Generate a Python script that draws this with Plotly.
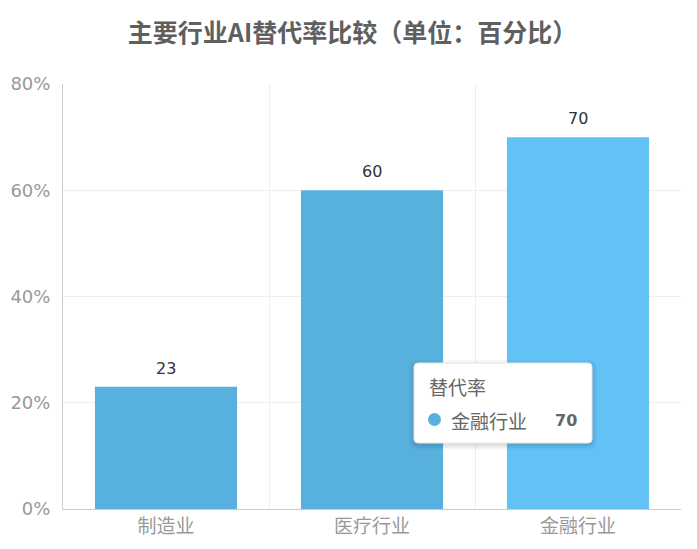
import plotly.graph_objects as go

categories = ["制造业", "医疗行业", "金融行业"]
rates = [23, 60, 70]
bar_colors = ["#58b0de", "#58b0de", "#63c2f5"]
y_ticks = [0, 20, 40, 60, 80]
y_tick_labels = ["0%", "20%", "40%", "60%", "80%"]

CJK = "Noto Sans CJK SC, sans-serif"
NUM = "DejaVu Sans, Noto Sans CJK SC, sans-serif"

# the page puts the figure 8px in from the top-left corner
OFF = 8
W, H = 697 - OFF, 549 - OFF
ML, MR, MT, MB = 63 - OFF, 16, 84 - OFF, 40
PW, PH = W - ML - MR, H - MT - MB


def px(x):
    return (x - OFF - ML) / PW


def py(y):
    return (H - MB - (y - OFF)) / PH


def rounded_box(x0, y0, x1, y1, r):
    """SVG path (paper coords) for a rounded rectangle given in screen pixels"""
    pts = [
        f"M{px(x0 + r)},{py(y0)}",
        f"L{px(x1 - r)},{py(y0)}",
        f"Q{px(x1)},{py(y0)} {px(x1)},{py(y0 + r)}",
        f"L{px(x1)},{py(y1 - r)}",
        f"Q{px(x1)},{py(y1)} {px(x1 - r)},{py(y1)}",
        f"L{px(x0 + r)},{py(y1)}",
        f"Q{px(x0)},{py(y1)} {px(x0)},{py(y1 - r)}",
        f"L{px(x0)},{py(y0 + r)}",
        f"Q{px(x0)},{py(y0)} {px(x0 + r)},{py(y0)}",
        "Z",
    ]
    return " ".join(pts)


fig = go.Figure(go.Bar(
    x=categories, y=rates,
    marker=dict(color=bar_colors, line=dict(width=0)),
    width=0.69,
    hoverinfo="skip",
))

# value labels above the bars
for cat, val in zip(categories, rates):
    fig.add_annotation(x=cat, y=val, text=str(val), showarrow=False,
                       yanchor="bottom", yshift=7,
                       font=dict(size=16, color="#333333", family=NUM))

fig.update_layout(
    width=W, height=H,
    margin=dict(l=ML, r=MR, t=MT, b=MB),
    paper_bgcolor="white", plot_bgcolor="white",
    showlegend=False,
    title=dict(text="<b>主要行业AI替代率比较（单位：百分比）</b>",
               x=0.5, xanchor="center", y=1 - (33 - OFF) / H, yanchor="middle",
               font=dict(size=25, color="#5f5f5f", family=CJK)),
    font=dict(family=CJK),
)
fig.update_xaxes(
    tickson="boundaries", showgrid=True, gridcolor="#eeeeee", gridwidth=1,
    showline=True, linecolor="#cccccc", linewidth=1,
    ticks="", automargin=False,
    tickfont=dict(size=19, color="#999999", family=CJK),
)
fig.update_yaxes(
    range=[0, 80], tickvals=y_ticks, ticktext=y_tick_labels,
    showgrid=True, gridcolor="#eeeeee", gridwidth=1,
    showline=True, linecolor="#cccccc", linewidth=1,
    zeroline=False, ticks="", ticklabelstandoff=8, automargin=False,
    tickfont=dict(size=18, color="#999999", family=NUM),
)

# static tooltip, as in the reference (soft shadow + rounded white box)
for grow, alpha in [(5, 0.03), (3, 0.04), (1, 0.06)]:
    fig.add_shape(type="path", xref="paper", yref="paper",
                  path=rounded_box(414 - grow, 363 - grow + 2, 592 + grow, 443 + grow + 2, 4 + grow),
                  fillcolor=f"rgba(0,0,0,{alpha})", line=dict(width=0), layer="above")
fig.add_shape(type="path", xref="paper", yref="paper",
              path=rounded_box(414, 363, 592, 443, 4),
              fillcolor="white", line=dict(color="#e6e6e6", width=1), layer="above")
fig.add_shape(type="circle", xref="paper", yref="paper",
              x0=px(428), x1=px(441), y0=py(426), y1=py(413),
              fillcolor="#58b0de", line=dict(width=0), layer="above")
fig.add_annotation(text="替代率", xref="paper", yref="paper",
                   x=px(427), y=py(386), xanchor="left", yanchor="middle",
                   showarrow=False, font=dict(size=19, color="#666666", family=CJK))
fig.add_annotation(text=categories[2], xref="paper", yref="paper",
                   x=px(449), y=py(420), xanchor="left", yanchor="middle",
                   showarrow=False, font=dict(size=19, color="#666666", family=CJK))
fig.add_annotation(text=f"<b>{rates[2]}</b>", xref="paper", yref="paper",
                   x=px(579), y=py(420), xanchor="right", yanchor="middle",
                   showarrow=False, font=dict(size=16, color="#666666", family=NUM))

fig.write_html("out.html")
